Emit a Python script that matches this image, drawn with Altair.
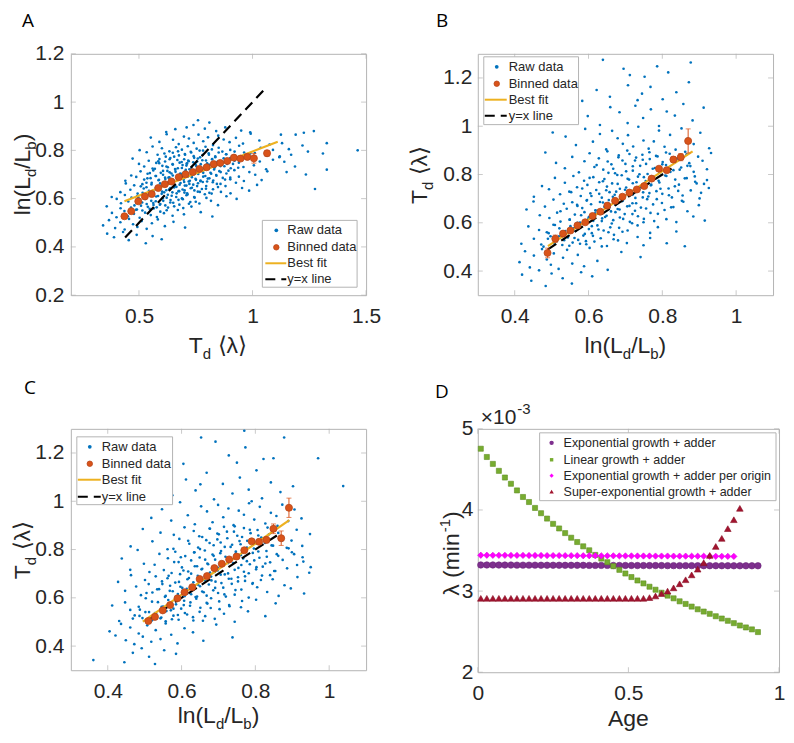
import altair as alt
import pandas as pd

# ------------------------------------------------------------------ data
# Panel A: x = T_d<lambda>, y = ln(Ld/Lb); raw points grouped by y band
raw_a_x = [
    [0.36, 0.39, 0.43, 0.455, 0.49, 0.53, 0.56, 0.60],
    [0.342, 0.368, 0.395, 0.418, 0.437, 0.456, 0.474, 0.493, 0.512, 0.534, 0.557, 0.583, 0.614, 0.652, 0.703],
    [0.358, 0.381, 0.401, 0.419, 0.436, 0.451, 0.465, 0.478, 0.491, 0.503, 0.515, 0.527, 0.539, 0.552, 0.565,
     0.579, 0.594, 0.61, 0.628, 0.648, 0.671, 0.698, 0.731, 0.772, 0.823],
    [0.38, 0.402, 0.421, 0.438, 0.453, 0.467, 0.48, 0.492, 0.503, 0.514, 0.524, 0.534, 0.544, 0.554, 0.564,
     0.574, 0.584, 0.594, 0.605, 0.616, 0.627, 0.639, 0.651, 0.664, 0.678, 0.693, 0.709, 0.726, 0.745, 0.766,
     0.79, 0.817, 0.848, 0.885, 0.93],
    [0.418, 0.442, 0.462, 0.479, 0.494, 0.508, 0.521, 0.533, 0.544, 0.555, 0.565, 0.575, 0.584, 0.593, 0.602,
     0.611, 0.62, 0.629, 0.638, 0.647, 0.656, 0.665, 0.674, 0.683, 0.692, 0.702, 0.712, 0.722, 0.733, 0.744,
     0.756, 0.768, 0.781, 0.795, 0.81, 0.826, 0.843, 0.861, 0.881, 0.903, 0.927, 0.954, 0.985, 1.02, 0.7],
    [0.44, 0.466, 0.488, 0.507, 0.523, 0.538, 0.551, 0.563, 0.575, 0.586, 0.596, 0.606, 0.616, 0.625, 0.634,
     0.643, 0.652, 0.661, 0.67, 0.679, 0.688, 0.697, 0.706, 0.715, 0.724, 0.733, 0.742, 0.751, 0.761, 0.771,
     0.781, 0.792, 0.803, 0.815, 0.827, 0.84, 0.854, 0.869, 0.885, 0.902, 0.92, 0.94, 0.962, 0.986, 1.012,
     1.04, 1.065, 0.63, 0.74, 0.8],
    [0.472, 0.5, 0.523, 0.543, 0.56, 0.576, 0.59, 0.603, 0.615, 0.627, 0.638, 0.649, 0.659, 0.669, 0.679,
     0.689, 0.699, 0.709, 0.719, 0.729, 0.739, 0.749, 0.759, 0.769, 0.779, 0.789, 0.8, 0.811, 0.822, 0.834,
     0.846, 0.859, 0.873, 0.888, 0.904, 0.921, 0.94, 0.96, 0.982, 1.006, 1.032, 1.06, 1.09, 0.71, 0.83],
    [0.503, 0.534, 0.56, 0.582, 0.601, 0.618, 0.634, 0.649, 0.663, 0.676, 0.689, 0.702, 0.715, 0.728, 0.741,
     0.754, 0.767, 0.78, 0.793, 0.807, 0.821, 0.836, 0.851, 0.867, 0.884, 0.902, 0.921, 0.941, 0.963, 0.986,
     1.01, 1.036, 1.063, 1.09, 1.118],
    [0.552, 0.59, 0.622, 0.65, 0.675, 0.698, 0.72, 0.741, 0.762, 0.783, 0.804, 0.826, 0.849, 0.873, 0.899,
     0.927, 0.958, 0.992, 1.03, 1.075],
    [0.62, 0.66, 0.71, 0.74, 0.76, 0.79, 0.81, 0.84, 0.88, 0.95, 0.99],
    [1.125, 1.19, 1.226, 1.27, 1.327, 1.22, 1.244, 1.31, 1.463, 1.327, 1.275, 1.14, 1.187, 1.235, 1.15,
     1.12, 1.17, 1.13, 1.16],
    # denser core
    [0.487, 0.509, 0.529, 0.547, 0.563, 0.578, 0.592, 0.607, 0.622, 0.638, 0.655, 0.674, 0.695, 0.72, 0.75],
    [0.497, 0.516, 0.533, 0.549, 0.563, 0.576, 0.588, 0.6, 0.611, 0.622, 0.633, 0.644, 0.655, 0.666, 0.677,
     0.689, 0.701, 0.714, 0.728, 0.743, 0.759, 0.777, 0.797, 0.82, 0.848],
    [0.515, 0.537, 0.556, 0.573, 0.588, 0.602, 0.615, 0.627, 0.638, 0.649, 0.659, 0.669, 0.679, 0.689, 0.699,
     0.709, 0.719, 0.729, 0.739, 0.749, 0.76, 0.771, 0.783, 0.796, 0.81, 0.825, 0.841, 0.859, 0.879, 0.902],
    [0.548, 0.57, 0.589, 0.606, 0.621, 0.635, 0.648, 0.66, 0.671, 0.682, 0.692, 0.702, 0.712, 0.722, 0.732,
     0.742, 0.752, 0.762, 0.772, 0.783, 0.794, 0.806, 0.818, 0.831, 0.845, 0.86, 0.876, 0.894, 0.914, 0.937],
    [0.585, 0.612, 0.635, 0.655, 0.672, 0.688, 0.703, 0.717, 0.73, 0.743, 0.756, 0.769, 0.782, 0.795, 0.808,
     0.822, 0.836, 0.851, 0.867, 0.884, 0.902, 0.921, 0.942, 0.965, 0.99],
]
raw_a_y = [
    [0.455, 0.44, 0.462, 0.428, 0.45, 0.415, 0.445, 0.432],
    [0.489, 0.511, 0.478, 0.502, 0.472, 0.516, 0.494, 0.483, 0.507, 0.475, 0.498, 0.514, 0.486, 0.504, 0.48],
    [0.568, 0.541, 0.523, 0.56, 0.549, 0.527, 0.563, 0.537, 0.555, 0.521, 0.551, 0.542, 0.566, 0.532, 0.559,
     0.524, 0.546, 0.54, 0.563, 0.529, 0.553, 0.535, 0.567, 0.544, 0.526],
    [0.607, 0.599, 0.581, 0.615, 0.588, 0.604, 0.572, 0.611, 0.595, 0.584, 0.602, 0.578, 0.619, 0.591, 0.574,
     0.589, 0.611, 0.578, 0.602, 0.572, 0.616, 0.594, 0.583, 0.607, 0.575, 0.598, 0.614, 0.586, 0.604, 0.58,
     0.618, 0.591, 0.573, 0.61, 0.599],
    [0.627, 0.663, 0.637, 0.655, 0.621, 0.651, 0.642, 0.666, 0.632, 0.659, 0.624, 0.646, 0.64, 0.663, 0.629,
     0.653, 0.635, 0.667, 0.644, 0.626, 0.657, 0.649, 0.631, 0.665, 0.638, 0.654, 0.622, 0.661, 0.645, 0.634,
     0.652, 0.628, 0.669, 0.641, 0.624, 0.639, 0.661, 0.628, 0.652, 0.622, 0.666, 0.644, 0.633, 0.657, 0.625],
    [0.674, 0.696, 0.69, 0.713, 0.679, 0.703, 0.685, 0.717, 0.694, 0.676, 0.707, 0.699, 0.681, 0.715, 0.688,
     0.704, 0.672, 0.711, 0.695, 0.684, 0.702, 0.678, 0.719, 0.691, 0.674, 0.689, 0.711, 0.678, 0.702, 0.672,
     0.716, 0.694, 0.683, 0.707, 0.675, 0.698, 0.714, 0.686, 0.704, 0.68, 0.718, 0.691, 0.673, 0.71, 0.699,
     0.677, 0.713, 0.687, 0.705, 0.671],
    [0.766, 0.744, 0.733, 0.757, 0.725, 0.748, 0.764, 0.736, 0.754, 0.73, 0.768, 0.741, 0.723, 0.76, 0.749,
     0.727, 0.763, 0.737, 0.755, 0.721, 0.751, 0.742, 0.766, 0.732, 0.759, 0.724, 0.746, 0.74, 0.763, 0.729,
     0.753, 0.735, 0.767, 0.744, 0.726, 0.757, 0.749, 0.731, 0.765, 0.738, 0.754, 0.722, 0.761, 0.745, 0.734],
    [0.801, 0.792, 0.816, 0.782, 0.809, 0.774, 0.796, 0.79, 0.813, 0.779, 0.803, 0.785, 0.817, 0.794, 0.776,
     0.807, 0.799, 0.781, 0.815, 0.788, 0.804, 0.772, 0.811, 0.795, 0.784, 0.802, 0.778, 0.819, 0.791, 0.774,
     0.789, 0.811, 0.778, 0.802, 0.772],
    [0.853, 0.835, 0.867, 0.844, 0.826, 0.857, 0.849, 0.831, 0.865, 0.838, 0.854, 0.822, 0.861, 0.845, 0.834,
     0.852, 0.828, 0.869, 0.841, 0.824],
    [0.876, 0.888, 0.895, 0.905, 0.925, 0.89, 0.915, 0.88, 0.895, 0.882, 0.875],
    [0.865, 0.865, 0.873, 0.88, 0.83, 0.82, 0.795, 0.787, 0.80, 0.72, 0.64, 0.753, 0.733, 0.70, 0.71,
     0.775, 0.782, 0.83, 0.805],
    [0.554, 0.571, 0.599, 0.558, 0.582, 0.564, 0.575, 0.591, 0.552, 0.584, 0.568, 0.595, 0.561, 0.579, 0.587],
    [0.606, 0.624, 0.647, 0.615, 0.633, 0.609, 0.643, 0.62, 0.626, 0.604, 0.639, 0.612, 0.646, 0.622, 0.631,
     0.601, 0.635, 0.617, 0.643, 0.607, 0.629, 0.64, 0.603, 0.621, 0.648],
    [0.66, 0.684, 0.666, 0.694, 0.678, 0.655, 0.687, 0.663, 0.674, 0.696, 0.652, 0.682, 0.658, 0.691, 0.669,
     0.654, 0.671, 0.699, 0.658, 0.682, 0.664, 0.675, 0.691, 0.652, 0.684, 0.668, 0.695, 0.661, 0.679, 0.687],
    [0.706, 0.724, 0.747, 0.715, 0.733, 0.709, 0.743, 0.72, 0.726, 0.704, 0.739, 0.712, 0.746, 0.722, 0.731,
     0.701, 0.735, 0.717, 0.743, 0.707, 0.729, 0.74, 0.703, 0.721, 0.748, 0.71, 0.734, 0.716, 0.744, 0.728],
    [0.755, 0.787, 0.763, 0.774, 0.796, 0.752, 0.782, 0.758, 0.791, 0.769, 0.754, 0.771, 0.799, 0.758, 0.782,
     0.764, 0.775, 0.791, 0.752, 0.784, 0.768, 0.795, 0.761, 0.779, 0.787],
]
bin_a_x = [0.436, 0.466, 0.497, 0.526, 0.556, 0.585, 0.614, 0.643, 0.675, 0.705, 0.737, 0.766, 0.798, 0.829,
           0.858, 0.889, 0.918, 0.947, 0.977, 1.006, 1.064]
bin_a_y = [0.527, 0.548, 0.589, 0.609, 0.619, 0.644, 0.660, 0.671, 0.689, 0.701, 0.710, 0.723, 0.730, 0.743,
           0.748, 0.756, 0.770, 0.766, 0.773, 0.767, 0.788]
bin_a_err = [0.006, 0.006, 0.005, 0.005, 0.005, 0.004, 0.004, 0.004, 0.004, 0.004, 0.004, 0.004, 0.004, 0.005,
             0.005, 0.006, 0.007, 0.008, 0.01, 0.02, 0.012]
fit_a_x = [0.436, 1.111]
fit_a_y = [0.589, 0.836]
idline_a = [0.439, 1.064]

# Panel B: x = ln(Ld/Lb), y = T_d<lambda>
raw_b_x = [
    [0.42, 0.445, 0.484, 0.5, 0.53, 0.555, 0.58, 0.61],
    [0.413, 0.428, 0.441, 0.452, 0.466, 0.474, 0.487, 0.498, 0.506, 0.519, 0.531, 0.542, 0.556, 0.571, 0.588,
     0.603, 0.624, 0.652, 0.689, 0.741],
    [0.418, 0.437, 0.452, 0.466, 0.478, 0.487, 0.497, 0.505, 0.514, 0.521, 0.529, 0.536, 0.544, 0.551, 0.557,
     0.565, 0.572, 0.579, 0.586, 0.594, 0.601, 0.609, 0.616, 0.624, 0.633, 0.641, 0.65, 0.659, 0.669, 0.68,
     0.692, 0.704, 0.718, 0.733, 0.749, 0.767, 0.788, 0.812, 0.838, 0.861],
    [0.432, 0.451, 0.468, 0.482, 0.494, 0.505, 0.515, 0.524, 0.533, 0.541, 0.549, 0.556, 0.563, 0.57, 0.577,
     0.583, 0.589, 0.595, 0.601, 0.607, 0.613, 0.619, 0.625, 0.631, 0.637, 0.643, 0.649, 0.655, 0.661, 0.667,
     0.673, 0.679, 0.685, 0.691, 0.698, 0.705, 0.712, 0.719, 0.726, 0.734, 0.742, 0.75, 0.759, 0.768, 0.778,
     0.788, 0.799, 0.811, 0.824, 0.838, 0.853, 0.868, 0.884, 0.899, 0.915],
    [0.452, 0.474, 0.493, 0.509, 0.523, 0.536, 0.548, 0.559, 0.569, 0.579, 0.588, 0.597, 0.605, 0.613, 0.621,
     0.629, 0.636, 0.643, 0.65, 0.657, 0.664, 0.671, 0.678, 0.685, 0.692, 0.699, 0.706, 0.713, 0.72, 0.727,
     0.734, 0.741, 0.748, 0.755, 0.762, 0.769, 0.776, 0.784, 0.792, 0.8, 0.808, 0.817, 0.826, 0.835, 0.845,
     0.855, 0.866, 0.877, 0.889, 0.901, 0.913, 0.926, 0.888, 0.905, 0.921],
    [0.483, 0.512, 0.536, 0.556, 0.574, 0.589, 0.603, 0.616, 0.628, 0.64, 0.651, 0.662, 0.672, 0.682, 0.692,
     0.702, 0.711, 0.72, 0.729, 0.738, 0.747, 0.756, 0.765, 0.774, 0.783, 0.792, 0.801, 0.81, 0.82, 0.83,
     0.84, 0.851, 0.862, 0.873, 0.885, 0.897, 0.909, 0.921, 0.932, 0.868],
    [0.503, 0.538, 0.566, 0.591, 0.612, 0.631, 0.648, 0.664, 0.679, 0.693, 0.707, 0.721, 0.735, 0.749, 0.763,
     0.777, 0.791, 0.806, 0.821, 0.836, 0.852, 0.868, 0.885, 0.903, 0.927],
    [0.552, 0.598, 0.631, 0.659, 0.684, 0.706, 0.727, 0.748, 0.769, 0.791, 0.812, 0.834, 0.857, 0.882, 0.912],
    [0.583, 0.622, 0.658, 0.707, 0.733, 0.768, 0.801, 0.838, 0.872, 0.745, 0.639, 0.695, 0.786, 0.816, 0.877,
     0.752, 0.712],
    # denser core
    [0.492, 0.509, 0.524, 0.537, 0.549, 0.56, 0.57, 0.58, 0.59, 0.6, 0.609, 0.618, 0.627, 0.636, 0.645,
     0.654, 0.663, 0.673, 0.683, 0.694, 0.706, 0.719, 0.733, 0.749, 0.767],
    [0.553, 0.569, 0.583, 0.596, 0.608, 0.619, 0.629, 0.639, 0.648, 0.657, 0.666, 0.675, 0.684, 0.693, 0.702,
     0.711, 0.72, 0.729, 0.738, 0.747, 0.756, 0.765, 0.775, 0.785, 0.795, 0.806, 0.818, 0.83, 0.843, 0.857],
    [0.603, 0.622, 0.639, 0.654, 0.667, 0.679, 0.69, 0.7, 0.71, 0.72, 0.73, 0.74, 0.75, 0.76, 0.77,
     0.78, 0.79, 0.8, 0.811, 0.822, 0.834, 0.847, 0.861, 0.876, 0.893],
    [0.472, 0.49, 0.506, 0.52, 0.534, 0.548, 0.562, 0.577, 0.593, 0.612, 0.636, 0.668],
    [0.652, 0.681, 0.705, 0.726, 0.746, 0.766, 0.787, 0.81, 0.836, 0.866],
]
raw_b_y = [
    [0.385, 0.36, 0.338, 0.39, 0.37, 0.348, 0.395, 0.378],
    [0.437, 0.482, 0.415, 0.464, 0.403, 0.491, 0.448, 0.426, 0.473, 0.409, 0.455, 0.488, 0.431, 0.467, 0.42,
     0.496, 0.442, 0.405, 0.479, 0.458],
    [0.513, 0.585, 0.534, 0.57, 0.501, 0.561, 0.544, 0.592, 0.524, 0.577, 0.508, 0.552, 0.539, 0.586, 0.518,
     0.566, 0.529, 0.594, 0.547, 0.511, 0.574, 0.557, 0.522, 0.589, 0.536, 0.568, 0.504, 0.581, 0.55, 0.527,
     0.563, 0.516, 0.598, 0.541, 0.507, 0.537, 0.582, 0.515, 0.564, 0.503],
    [0.655, 0.688, 0.631, 0.667, 0.62, 0.696, 0.642, 0.605, 0.679, 0.658, 0.613, 0.685, 0.634, 0.67, 0.601,
     0.661, 0.644, 0.692, 0.624, 0.677, 0.608, 0.652, 0.639, 0.686, 0.618, 0.666, 0.629, 0.694, 0.647, 0.611,
     0.674, 0.657, 0.622, 0.689, 0.636, 0.668, 0.604, 0.681, 0.65, 0.627, 0.663, 0.616, 0.698, 0.641, 0.607,
     0.637, 0.682, 0.615, 0.664, 0.603, 0.691, 0.648, 0.626, 0.673, 0.609],
    [0.708, 0.752, 0.739, 0.786, 0.718, 0.766, 0.729, 0.794, 0.747, 0.711, 0.774, 0.757, 0.722, 0.789, 0.736,
     0.768, 0.704, 0.781, 0.75, 0.727, 0.763, 0.716, 0.798, 0.741, 0.707, 0.737, 0.782, 0.715, 0.764, 0.703,
     0.791, 0.748, 0.726, 0.773, 0.709, 0.755, 0.788, 0.731, 0.767, 0.72, 0.796, 0.742, 0.705, 0.779, 0.758,
     0.713, 0.785, 0.734, 0.77, 0.701, 0.761, 0.744, 0.792, 0.724, 0.777],
    [0.891, 0.848, 0.826, 0.873, 0.809, 0.855, 0.888, 0.831, 0.867, 0.82, 0.896, 0.842, 0.805, 0.879, 0.858,
     0.813, 0.885, 0.834, 0.87, 0.801, 0.861, 0.844, 0.892, 0.824, 0.877, 0.808, 0.852, 0.839, 0.886, 0.818,
     0.866, 0.829, 0.894, 0.847, 0.811, 0.874, 0.857, 0.822, 0.889, 0.836],
    [0.974, 0.957, 0.922, 0.989, 0.936, 0.968, 0.904, 0.981, 0.95, 0.927, 0.963, 0.916, 0.998, 0.941, 0.907,
     0.937, 0.982, 0.915, 0.964, 0.903, 0.991, 0.948, 0.926, 0.973, 0.909],
    [1.096, 1.042, 1.005, 1.079, 1.058, 1.013, 1.085, 1.034, 1.07, 1.001, 1.061, 1.044, 1.092, 1.024, 1.077],
    [1.105, 1.15, 1.122, 1.17, 1.108, 1.163, 1.112, 1.141, 1.182, 1.135, 1.275, 1.238, 1.248, 1.223, 1.264,
     1.205, 1.212],
    [0.557, 0.591, 0.648, 0.566, 0.613, 0.577, 0.6, 0.631, 0.554, 0.618, 0.586, 0.639, 0.572, 0.607, 0.624,
     0.561, 0.597, 0.644, 0.579, 0.616, 0.568, 0.636, 0.589, 0.602, 0.558],
    [0.727, 0.674, 0.742, 0.694, 0.711, 0.651, 0.72, 0.684, 0.735, 0.663, 0.708, 0.729, 0.655, 0.692, 0.746,
     0.67, 0.717, 0.681, 0.738, 0.705, 0.659, 0.723, 0.676, 0.698, 0.741, 0.653, 0.714, 0.665, 0.732, 0.687],
    [0.786, 0.839, 0.772, 0.807, 0.824, 0.761, 0.797, 0.844, 0.779, 0.816, 0.768, 0.836, 0.789, 0.802, 0.758,
     0.827, 0.774, 0.842, 0.794, 0.811, 0.751, 0.82, 0.784, 0.835, 0.763],
    [0.51, 0.534, 0.516, 0.544, 0.528, 0.505, 0.537, 0.513, 0.524, 0.546, 0.502, 0.532],
    [0.854, 0.871, 0.899, 0.858, 0.882, 0.864, 0.875, 0.891, 0.852, 0.884],
]
bin_b_x = [0.489, 0.51, 0.531, 0.551, 0.57, 0.591, 0.611, 0.632, 0.651, 0.672, 0.692, 0.711, 0.731, 0.751,
           0.771, 0.791, 0.812, 0.83, 0.85, 0.87]
bin_b_y = [0.475, 0.534, 0.555, 0.568, 0.589, 0.602, 0.628, 0.646, 0.671, 0.691, 0.708, 0.725, 0.738, 0.752,
           0.783, 0.824, 0.818, 0.862, 0.872, 0.939]
bin_b_err = [0.02, 0.015, 0.008, 0.007, 0.006, 0.005, 0.005, 0.005, 0.005, 0.005, 0.005, 0.005, 0.005, 0.006,
             0.006, 0.008, 0.01, 0.012, 0.015, 0.05]
fit_b_x = [0.49, 0.882]
fit_b_y = [0.503, 0.896]
idline_b = [0.49, 0.825]

# Panel C: x = ln(Ld/Lb), y = T_d<lambda>
raw_c_x = [
    [0.361, 0.445, 0.528, 0.468, 0.492, 0.512, 0.553, 0.585],
    [0.405, 0.421, 0.436, 0.449, 0.461, 0.472, 0.484, 0.495, 0.507, 0.518, 0.53, 0.543, 0.557, 0.572, 0.589,
     0.608, 0.631, 0.659, 0.694, 0.738],
    [0.412, 0.431, 0.447, 0.461, 0.473, 0.484, 0.494, 0.503, 0.512, 0.52, 0.528, 0.536, 0.543, 0.55, 0.557,
     0.564, 0.571, 0.578, 0.585, 0.592, 0.599, 0.607, 0.615, 0.623, 0.631, 0.64, 0.649, 0.658, 0.668, 0.679,
     0.69, 0.702, 0.715, 0.729, 0.744, 0.761, 0.78, 0.802, 0.827, 0.855],
    [0.428, 0.447, 0.463, 0.477, 0.49, 0.501, 0.511, 0.521, 0.53, 0.539, 0.547, 0.555, 0.562, 0.569, 0.576,
     0.583, 0.59, 0.596, 0.602, 0.608, 0.614, 0.62, 0.626, 0.632, 0.638, 0.644, 0.65, 0.656, 0.662, 0.668,
     0.674, 0.68, 0.686, 0.692, 0.699, 0.706, 0.713, 0.72, 0.728, 0.736, 0.744, 0.753, 0.762, 0.772, 0.782,
     0.793, 0.805, 0.818, 0.832, 0.847, 0.863, 0.879, 0.896, 0.914, 0.932],
    [0.438, 0.461, 0.481, 0.498, 0.513, 0.527, 0.54, 0.552, 0.563, 0.573, 0.583, 0.592, 0.601, 0.61, 0.618,
     0.626, 0.634, 0.642, 0.649, 0.656, 0.663, 0.67, 0.677, 0.684, 0.691, 0.698, 0.705, 0.712, 0.719, 0.726,
     0.733, 0.74, 0.747, 0.754, 0.761, 0.769, 0.777, 0.785, 0.793, 0.802, 0.811, 0.82, 0.83, 0.84, 0.851,
     0.862, 0.874, 0.886, 0.899, 0.913, 0.928, 0.946, 0.905, 0.93, 0.95],
    [0.462, 0.495, 0.521, 0.543, 0.562, 0.579, 0.594, 0.608, 0.621, 0.633, 0.645, 0.656, 0.667, 0.677, 0.687,
     0.697, 0.706, 0.715, 0.724, 0.733, 0.742, 0.751, 0.76, 0.769, 0.778, 0.787, 0.796, 0.806, 0.816, 0.826,
     0.837, 0.848, 0.86, 0.872, 0.885, 0.898, 0.912, 0.927, 0.948, 0.578],
    [0.518, 0.547, 0.572, 0.596, 0.617, 0.636, 0.653, 0.669, 0.684, 0.699, 0.713, 0.727, 0.741, 0.755, 0.769,
     0.783, 0.797, 0.812, 0.827, 0.842, 0.857, 0.873, 0.889, 0.906, 0.925],
    [0.575, 0.612, 0.638, 0.651, 0.668, 0.688, 0.712, 0.738, 0.758, 0.782, 0.79, 0.803, 0.818, 0.842, 0.868,
     0.902, 1.038],
    [0.653, 0.692, 0.77, 0.773, 0.822, 0.849, 0.878, 0.97, 0.728, 0.605, 0.75],
    # denser core
    [0.487, 0.505, 0.52, 0.534, 0.546, 0.557, 0.568, 0.578, 0.588, 0.597, 0.606, 0.615, 0.624, 0.633, 0.642,
     0.651, 0.66, 0.67, 0.68, 0.691, 0.703, 0.716, 0.73, 0.746, 0.764],
    [0.548, 0.565, 0.58, 0.593, 0.605, 0.616, 0.626, 0.636, 0.645, 0.654, 0.663, 0.672, 0.681, 0.69, 0.699,
     0.708, 0.717, 0.726, 0.735, 0.744, 0.753, 0.762, 0.772, 0.782, 0.792, 0.803, 0.815, 0.827, 0.84, 0.854],
    [0.598, 0.618, 0.635, 0.65, 0.664, 0.676, 0.687, 0.697, 0.707, 0.717, 0.727, 0.737, 0.747, 0.757, 0.767,
     0.777, 0.787, 0.797, 0.808, 0.819, 0.831, 0.844, 0.858, 0.873, 0.89],
    [0.468, 0.486, 0.502, 0.517, 0.531, 0.545, 0.559, 0.574, 0.59, 0.609, 0.632, 0.664],
    [0.648, 0.676, 0.701, 0.723, 0.744, 0.764, 0.785, 0.808, 0.833, 0.862],
]
raw_c_y = [
    [0.342, 0.333, 0.326, 0.372, 0.391, 0.356, 0.383, 0.368],
    [0.461, 0.444, 0.492, 0.424, 0.477, 0.408, 0.452, 0.439, 0.486, 0.418, 0.466, 0.429, 0.494, 0.447, 0.411,
     0.474, 0.457, 0.422, 0.489, 0.436],
    [0.568, 0.504, 0.581, 0.55, 0.527, 0.563, 0.516, 0.598, 0.541, 0.507, 0.537, 0.582, 0.515, 0.564, 0.503,
     0.591, 0.548, 0.526, 0.573, 0.509, 0.555, 0.588, 0.531, 0.567, 0.52, 0.596, 0.542, 0.505, 0.579, 0.558,
     0.513, 0.585, 0.534, 0.57, 0.501, 0.561, 0.544, 0.592, 0.524, 0.577],
    [0.666, 0.629, 0.694, 0.647, 0.611, 0.674, 0.657, 0.622, 0.689, 0.636, 0.668, 0.604, 0.681, 0.65, 0.627,
     0.663, 0.616, 0.698, 0.641, 0.607, 0.637, 0.682, 0.615, 0.664, 0.603, 0.691, 0.648, 0.626, 0.673, 0.609,
     0.655, 0.688, 0.631, 0.667, 0.62, 0.696, 0.642, 0.605, 0.679, 0.658, 0.613, 0.685, 0.634, 0.67, 0.601,
     0.661, 0.644, 0.692, 0.624, 0.677, 0.608, 0.652, 0.639, 0.686, 0.618],
    [0.763, 0.716, 0.798, 0.741, 0.707, 0.737, 0.782, 0.715, 0.764, 0.703, 0.791, 0.748, 0.726, 0.773, 0.709,
     0.755, 0.788, 0.731, 0.767, 0.72, 0.796, 0.742, 0.705, 0.779, 0.758, 0.713, 0.785, 0.734, 0.77, 0.701,
     0.761, 0.744, 0.792, 0.724, 0.777, 0.708, 0.752, 0.739, 0.786, 0.718, 0.766, 0.729, 0.794, 0.747, 0.711,
     0.774, 0.757, 0.722, 0.789, 0.736, 0.768, 0.704, 0.781, 0.75, 0.727],
    [0.813, 0.885, 0.834, 0.87, 0.801, 0.861, 0.844, 0.892, 0.824, 0.877, 0.808, 0.852, 0.839, 0.886, 0.818,
     0.866, 0.829, 0.894, 0.847, 0.811, 0.874, 0.857, 0.822, 0.889, 0.836, 0.868, 0.804, 0.881, 0.85, 0.827,
     0.863, 0.816, 0.898, 0.841, 0.807, 0.837, 0.882, 0.815, 0.864, 0.803],
    [0.931, 0.967, 0.92, 0.996, 0.942, 0.905, 0.979, 0.958, 0.913, 0.985, 0.934, 0.97, 0.901, 0.961, 0.944,
     0.992, 0.924, 0.977, 0.908, 0.952, 0.939, 0.986, 0.918, 0.966, 0.929],
    [1.025, 1.09, 1.045, 1.07, 1.118, 1.008, 1.072, 1.032, 1.098, 1.048, 1.0, 1.128, 1.012, 1.078, 1.038,
     1.062, 1.063],
    [1.264, 1.247, 1.292, 1.223, 1.175, 1.178, 1.264, 1.178, 1.19, 1.155, 1.16],
    [0.551, 0.62, 0.584, 0.635, 0.563, 0.608, 0.629, 0.555, 0.592, 0.646, 0.57, 0.617, 0.581, 0.638, 0.605,
     0.559, 0.623, 0.576, 0.598, 0.641, 0.553, 0.614, 0.565, 0.632, 0.587],
    [0.657, 0.691, 0.748, 0.666, 0.713, 0.677, 0.7, 0.731, 0.654, 0.718, 0.686, 0.739, 0.672, 0.707, 0.724,
     0.661, 0.697, 0.744, 0.679, 0.716, 0.668, 0.736, 0.689, 0.702, 0.658, 0.727, 0.674, 0.742, 0.694, 0.711],
    [0.768, 0.836, 0.789, 0.802, 0.758, 0.827, 0.774, 0.842, 0.794, 0.811, 0.751, 0.82, 0.784, 0.835, 0.763,
     0.808, 0.829, 0.755, 0.792, 0.846, 0.77, 0.817, 0.781, 0.838, 0.805],
    [0.514, 0.525, 0.541, 0.502, 0.534, 0.518, 0.545, 0.511, 0.529, 0.537, 0.506, 0.524],
    [0.855, 0.887, 0.863, 0.874, 0.896, 0.852, 0.882, 0.858, 0.891, 0.869],
]
bin_c_x = [0.51, 0.528, 0.549, 0.569, 0.589, 0.608, 0.629, 0.649, 0.669, 0.689, 0.709, 0.729, 0.749, 0.77,
           0.79, 0.81, 0.83, 0.849, 0.87, 0.891]
bin_c_y = [0.504, 0.521, 0.548, 0.57, 0.598, 0.623, 0.644, 0.678, 0.69, 0.723, 0.741, 0.759, 0.771, 0.797,
           0.834, 0.832, 0.84, 0.886, 0.847, 0.973]
bin_c_err = [0.008, 0.008, 0.006, 0.006, 0.005, 0.005, 0.005, 0.005, 0.005, 0.005, 0.005, 0.005, 0.006, 0.006,
             0.008, 0.01, 0.012, 0.02, 0.03, 0.04]
fit_c_x = [0.495, 0.892]
fit_c_y = [0.501, 0.922]
idline_c = [0.51, 0.865]

# Panel D: lambda (x1e-3 min^-1) versus cell age
age = [0.01, 0.03, 0.05, 0.07, 0.09, 0.11, 0.13, 0.15, 0.17, 0.19, 0.21, 0.23, 0.25, 0.27, 0.29, 0.31,
       0.33, 0.35, 0.37, 0.39, 0.41, 0.43, 0.45, 0.47, 0.49, 0.51, 0.53, 0.55, 0.57, 0.59, 0.61, 0.63,
       0.65, 0.67, 0.69, 0.71, 0.73, 0.75, 0.77, 0.79, 0.81, 0.83, 0.85, 0.87, 0.89, 0.91, 0.93]
lam_exp_adder = [3.322, 3.322, 3.322, 3.321, 3.321, 3.321, 3.320, 3.320, 3.320, 3.320, 3.319, 3.319, 3.319,
                 3.319, 3.318, 3.318, 3.318, 3.318, 3.317, 3.317, 3.317, 3.317, 3.316, 3.316, 3.316, 3.316,
                 3.315, 3.315, 3.315, 3.315, 3.315, 3.314, 3.314, 3.314, 3.314, 3.314, 3.313, 3.313, 3.313,
                 3.313, 3.313, 3.313, 3.312, 3.312, 3.312, 3.312, 3.312]
lam_linear = [4.755, 4.653, 4.568, 4.482, 4.400, 4.323, 4.241, 4.160, 4.098, 4.025, 3.960, 3.894, 3.829,
              3.772, 3.715, 3.658, 3.605, 3.552, 3.503, 3.446, 3.401, 3.356, 3.307, 3.262, 3.217, 3.173,
              3.131, 3.095, 3.054, 3.017, 2.980, 2.944, 2.911, 2.874, 2.842, 2.809, 2.776, 2.748, 2.720,
              2.690, 2.662, 2.634, 2.605, 2.576, 2.552, 2.528, 2.495]
lam_exp_origin = [3.442, 3.442, 3.441, 3.441, 3.441, 3.440, 3.440, 3.440, 3.439, 3.439, 3.439, 3.438, 3.438,
                  3.438, 3.437, 3.437, 3.437, 3.436, 3.436, 3.436, 3.435, 3.435, 3.435, 3.434, 3.434, 3.434,
                  3.433, 3.433, 3.433, 3.432, 3.432, 3.432, 3.431, 3.431, 3.431, 3.430, 3.430, 3.430, 3.429,
                  3.429, 3.429, 3.428, 3.428]
lam_super = [2.911, 2.911, 2.911, 2.911, 2.911, 2.911, 2.911, 2.911, 2.911, 2.911, 2.911, 2.911, 2.911, 2.911,
             2.911, 2.911, 2.911, 2.911, 2.911, 2.911, 2.911, 2.911, 2.911, 2.911, 2.911, 2.911, 2.911, 2.911,
             2.92, 2.94, 2.97, 3.00, 3.04, 3.09, 3.14, 3.20, 3.27, 3.35, 3.44, 3.55, 3.65, 3.77, 3.88, 4.02]
d_series = ["Exponential growth + adder", "Linear growth + adder",
            "Exponential growth + adder per origin", "Super-exponential growth + adder"]
abc_labels = ["Raw data", "Binned data", "Best fit", "y=x line"]

# ------------------------------------------------------------------ style
FONT = "Liberation Sans"
LETTER_FONT = "Open Sans"
TXT = "#262626"
FRAME = "#b4b4b4"
BLUE = "#0072BD"
ORANGE = "#D95319"
ORANGE_EDGE = "#b8461a"
YELLOW = "#EDB120"
PURPLE = "#7E2F8E"
GREEN = "#77AC30"
MAGENTA = "#FF00FF"
DARKRED = "#A2142F"
ONE = pd.DataFrame({"k": [0]})

CW = {'l': .222, 'n': .556, '(': .333, ')': .333, 'L': .556, '/': .278, 'd': .556, 'b': .556, 'T': .611,
      ' ': .278, 'λ': .55, 'm': .833, 'i': .222, '-': .333, '1': .556, '⟨': .39, '⟩': .39, 'A': .667,
      'g': .556, 'e': .556, '×': .584, '0': .556, '3': .556}
MAIN, SMALL = 23, 15
SHIFT = {"n": 0, "sub": 6, "sup": -9}


def seg_w(s, size):
    return sum(CW.get(c, 0.556) for c in s) * size


def txt(s, x, y, size, angle=0, font=FONT, color=TXT, align="left", baseline="alphabetic"):
    kw = dict(align=align, baseline=baseline, font=font, fontSize=size, color=color)
    if angle:
        kw["angle"] = angle
    return alt.Chart(ONE).mark_text(**kw).encode(x=alt.value(x), y=alt.value(y), text=alt.value(s))


def rich(segs, c, base, vertical=False):
    sizes = [MAIN if k == "n" else SMALL for _, k in segs]
    total = sum(seg_w(t, sz) for (t, _), sz in zip(segs, sizes))
    out = []
    pos = c + total / 2 if vertical else c - total / 2
    for (t, k), sz in zip(segs, sizes):
        if t.strip():
            if vertical:
                out.append(txt(t, base + SHIFT[k], pos, sz, angle=270))
            else:
                out.append(txt(t, pos, base + SHIFT[k], sz))
        pos = pos - seg_w(t, sz) if vertical else pos + seg_w(t, sz)
    return out


TD_LAMBDA = [("T", "n"), ("d", "sub"), (" ", "n"), ("⟨λ⟩", "n")]
LN_RATIO = [("ln(L", "n"), ("d", "sub"), ("/L", "n"), ("b", "sub"), (")", "n")]


def flat(bx, by):
    xs, ys = [], []
    for a, b in zip(bx, by):
        n = min(len(a), len(b))
        xs += a[:n]
        ys += b[:n]
    return xs, ys


def axis(vals, pad):
    return alt.Axis(values=vals, format="~g", title=None, grid=False, ticks=False, domain=False,
                    labelFlush=False, labelPadding=pad, labelFont=FONT, labelFontSize=21,
                    labelColor=TXT, labelOverlap=False)


def frame_ticks(xs, ys, xt, yt, w, h):
    xdf = pd.DataFrame({"x": xt})
    ydf = pd.DataFrame({"y": yt})
    L = []
    for yy in (h - 2.5, 2.5):
        L.append(alt.Chart(xdf).mark_tick(orient="vertical", size=5, thickness=1, color=FRAME).encode(
            x=alt.X("x:Q", scale=xs, title=None), y=alt.value(yy)))
    for xx in (2.5, w - 2.5):
        L.append(alt.Chart(ydf).mark_tick(orient="horizontal", size=5, thickness=1, color=FRAME).encode(
            y=alt.Y("y:Q", scale=ys, title=None), x=alt.value(xx)))
    return L


def legend_abc(box, rows, sym_x, line_x, text_x):
    x1, y1, x2, y2 = box
    L = [alt.Chart(ONE).mark_rect(fill="white", stroke=FRAME, strokeWidth=1).encode(
        x=alt.value(x1), x2=alt.value(x2), y=alt.value(y1), y2=alt.value(y2))]
    L.append(alt.Chart(ONE).mark_circle(size=14, color=BLUE, opacity=1).encode(
        x=alt.value(sym_x), y=alt.value(rows[0])))
    L.append(alt.Chart(ONE).mark_circle(size=30, color=ORANGE, opacity=1, stroke=ORANGE_EDGE,
                                        strokeWidth=0.8).encode(x=alt.value(sym_x), y=alt.value(rows[1])))
    L.append(alt.Chart(ONE).mark_rule(color=YELLOW, strokeWidth=2).encode(
        x=alt.value(line_x[0]), x2=alt.value(line_x[1]), y=alt.value(rows[2])))
    L.append(alt.Chart(ONE).mark_rule(color="black", strokeWidth=2, strokeDash=[10, 6]).encode(
        x=alt.value(line_x[0]), x2=alt.value(line_x[1]), y=alt.value(rows[3])))
    for lab, yy in zip(abc_labels, rows):
        L.append(txt(lab, text_x, yy, 13, baseline="middle"))
    return L


def scatter_panel(rx, ry, bx, by, be, fx, fy, idl, xdom, ydom, xt, yt, w, h, ypad,
                  letter, letter_pos, xtitle, xtitle_base, ytitle, ytitle_base, leg):
    xs = alt.Scale(domain=xdom, nice=False, zero=False)
    ys = alt.Scale(domain=ydom, nice=False, zero=False)
    X = lambda f="x": alt.X(f"{f}:Q", scale=xs, title=None)
    Y = lambda f="y": alt.Y(f"{f}:Q", scale=ys, title=None)
    px, py = flat(rx, ry)
    raw = pd.DataFrame({"x": px, "y": py})
    binned = pd.DataFrame({"x": bx, "y": by,
                           "lo": [v - e for v, e in zip(by, be)], "hi": [v + e for v, e in zip(by, be)]})
    fit = pd.DataFrame({"x": fx, "y": fy})
    ident = pd.DataFrame({"x": idl, "y": idl})
    layers = [
        alt.Chart(raw).mark_circle(size=7, color=BLUE, opacity=1).encode(
            x=alt.X("x:Q", scale=xs, title=None, axis=axis(xt, 10)),
            y=alt.Y("y:Q", scale=ys, title=None, axis=axis(yt, ypad))),
        alt.Chart(ident).mark_line(color="black", strokeWidth=2.2, strokeDash=[10, 6]).encode(x=X(), y=Y()),
        alt.Chart(fit).mark_line(color=YELLOW, strokeWidth=2.2).encode(x=X(), y=Y()),
        alt.Chart(binned).mark_rule(color=ORANGE, strokeWidth=1).encode(x=X(), y=Y("lo"), y2="hi:Q"),
        alt.Chart(binned).mark_tick(orient="horizontal", size=5, thickness=1, color=ORANGE).encode(
            x=X(), y=Y("lo")),
        alt.Chart(binned).mark_tick(orient="horizontal", size=5, thickness=1, color=ORANGE).encode(
            x=X(), y=Y("hi")),
        alt.Chart(binned).mark_circle(size=50, color=ORANGE, opacity=1, stroke=ORANGE_EDGE,
                                      strokeWidth=0.8).encode(x=X(), y=Y()),
    ]
    layers += frame_ticks(xs, ys, xt, yt, w, h)
    layers += legend_abc(*leg)
    layers += rich(xtitle, w / 2, xtitle_base)
    layers += rich(ytitle, h / 2, ytitle_base, vertical=True)
    layers.append(txt(letter, letter_pos[0], letter_pos[1], 19, font=LETTER_FONT, color="black"))
    return alt.layer(*layers).properties(width=w, height=h)


W, H = 296, 242
WD, HD = 302, 244

panel_a = scatter_panel(raw_a_x, raw_a_y, bin_a_x, bin_a_y, bin_a_err, fit_a_x, fit_a_y, idline_a,
                        [0.2, 1.5], [0.2, 1.2], [0.5, 1, 1.5], [0.2, 0.4, 0.6, 0.8, 1, 1.2], W, H, 7,
                        "A", (-49, -27), TD_LAMBDA, 300, LN_RATIO, -41,
                        ((192, 167, 287, 234), [177, 194, 210, 226], 206, (195, 216), 217))
panel_b = scatter_panel(raw_b_x, raw_b_y, bin_b_x, bin_b_y, bin_b_err, fit_b_x, fit_b_y, idline_b,
                        [0.3, 1.1], [0.3, 1.3], [0.4, 0.6, 0.8, 1], [0.4, 0.6, 0.8, 1, 1.2], W, H, 6,
                        "B", (-42, -27), LN_RATIO, 300, TD_LAMBDA, -51,
                        ((6, 3, 101, 71), [13, 30, 46, 62], 19, (7, 29), 31))
panel_c = scatter_panel(raw_c_x, raw_c_y, bin_c_x, bin_c_y, bin_c_err, fit_c_x, fit_c_y, idline_c,
                        [0.3, 1.1], [0.3, 1.3], [0.4, 0.6, 0.8, 1], [0.4, 0.6, 0.8, 1, 1.2], W, H, 7,
                        "C", (-47, -35), LN_RATIO, 295, TD_LAMBDA, -41,
                        ((6, 8, 102, 76), [18, 35, 51, 68], 19, (7, 30), 31))

# ---- panel D
xs_d = alt.Scale(domain=[0, 1], nice=False, zero=False)
ys_d = alt.Scale(domain=[2, 5], nice=False, zero=False)
d_specs = [
    (lam_exp_adder, "circle", PURPLE, "#6a2578", 42),
    (lam_linear, "square", GREEN, "#5f8f22", 26),
    (lam_exp_origin, "diamond", MAGENTA, "#e000e0", 40),
    (lam_super, "triangle-up", DARKRED, "#8a0f25", 44),
]
d_layers = []
for i, (vals, shape, col, edge, sz) in enumerate(d_specs):
    df = pd.DataFrame({"x": age[:len(vals)], "y": vals})
    enc = dict(x=alt.X("x:Q", scale=xs_d, title=None), y=alt.Y("y:Q", scale=ys_d, title=None))
    if i == 0:
        enc = dict(x=alt.X("x:Q", scale=xs_d, title=None, axis=axis([0, 0.5, 1], 10)),
                   y=alt.Y("y:Q", scale=ys_d, title=None, axis=axis([2, 3, 4, 5], 5)))
    d_layers.append(alt.Chart(df).mark_point(shape=shape, filled=True, size=sz, color=col, opacity=1,
                                             stroke=edge, strokeWidth=0.6).encode(**enc))
d_layers += frame_ticks(xs_d, ys_d, [0, 0.5, 1], [2, 3, 4, 5], WD, HD)
# legend of panel D
d_layers.append(alt.Chart(ONE).mark_rect(fill="white", stroke=FRAME, strokeWidth=1).encode(
    x=alt.value(62), x2=alt.value(WD - 3), y=alt.value(4), y2=alt.value(72)))
for (vals, shape, col, edge, sz), lab, yy in zip(d_specs, d_series, [14, 31, 47, 63]):
    d_layers.append(alt.Chart(ONE).mark_point(shape=shape, filled=True, size=sz * 0.45, color=col,
                                              opacity=1).encode(x=alt.value(74), y=alt.value(yy)))
    d_layers.append(txt(lab, 86, yy, 12.5, baseline="middle"))
d_layers.append(txt("×10", 3, -5, 21))
d_layers.append(txt("-3", 3 + seg_w("×10", 21) + 1, -15, 15))
d_layers += rich([("Age", "n")], WD / 2, 298)
d_layers += rich([("λ (min", "n"), ("-1", "sup"), (")", "n")], HD / 2 + 3, -19, vertical=True)
d_layers.append(txt("D", -43, -31, 19, font=LETTER_FONT, color="black"))
panel_d = alt.layer(*d_layers).properties(width=WD, height=HD)

chart = alt.concat(panel_a, panel_b, panel_c, panel_d, columns=2, bounds="flush",
                   spacing={"row": 134, "column": 112}).properties(
    padding={"left": 3, "top": 2, "right": 0, "bottom": 0}, background="white"
).configure_view(stroke=FRAME, strokeWidth=1)

chart.save("out.html", embed_options={"renderer": "svg", "actions": False})
